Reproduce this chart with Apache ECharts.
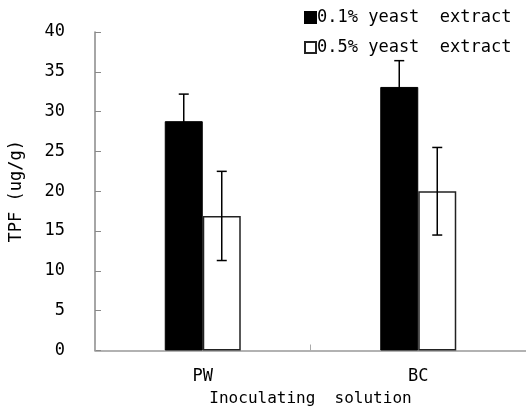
<!DOCTYPE html>
<html>
<head>
<meta charset="utf-8">
<script src="https://cdn.jsdelivr.net/npm/echarts@6/dist/echarts.min.js"></script>
<style>html,body{margin:0;padding:0;background:#fff;}#c{width:526px;height:414px;}</style>
</head>
<body>
<div id="c"></div>
<script>
const categories = ['PW', 'BC'];
const seriesNames = ['0.1% yeast  extract', '0.5% yeast  extract'];
const means01 = [28.8, 33.1];
const err01 = [3.4, 3.3];
const means05 = [16.9, 20.0];
const err05 = [5.6, 5.5];
const yTicks = [0, 5, 10, 15, 20, 25, 30, 35, 40];

const FONT = '"DejaVu Sans Mono", "Liberation Mono", monospace';
const chart = echarts.init(document.getElementById('c'));

function errSeries(means, errs, offset) {
  return {
    type: 'custom',
    silent: true,
    z: 5,
    data: means.map((m, i) => [i, m - errs[i], m + errs[i]]),
    renderItem: function (params, api) {
      const lo = api.coord([api.value(0), api.value(1)]);
      const hi = api.coord([api.value(0), api.value(2)]);
      const x = lo[0] + offset;
      const cap = 5;
      const st = { stroke: '#000', lineWidth: 1.5 };
      return {
        type: 'group',
        children: [
          { type: 'line', shape: { x1: x, y1: lo[1], x2: x, y2: hi[1] }, style: st },
          { type: 'line', shape: { x1: x - cap, y1: hi[1], x2: x + cap, y2: hi[1] }, style: st },
          { type: 'line', shape: { x1: x - cap, y1: lo[1], x2: x + cap, y2: lo[1] }, style: st }
        ]
      };
    }
  };
}

chart.setOption({
  animation: false,
  backgroundColor: '#fff',
  grid: { left: 93, right: -2, top: 32, bottom: 63.5 },
  legend: {
    orient: 'vertical',
    left: 299,
    top: 4,
    itemWidth: 11,
    itemHeight: 11,
    itemGap: 13,
    icon: 'rect',
    textStyle: { fontFamily: FONT, fontSize: 17, color: '#000', padding: [0, 0, 0, -4] },
    data: seriesNames
  },
  xAxis: {
    type: 'category',
    data: categories,
    name: 'Inoculating  solution',
    nameLocation: 'middle',
    nameGap: 40,
    nameTextStyle: { fontFamily: FONT, fontSize: 16, color: '#000' },
    axisLine: { lineStyle: { color: '#999', width: 1.5 } },
    axisTick: { show: true, inside: true, length: 6, lineStyle: { color: '#aaa' } },
    axisLabel: { fontFamily: FONT, fontSize: 17, color: '#000', margin: 18 }
  },
  yAxis: {
    type: 'value',
    min: yTicks[0],
    max: yTicks[yTicks.length - 1],
    interval: 5,
    name: 'TPF (ug/g)',
    nameLocation: 'middle',
    nameGap: 70,
    nameRotate: 90,
    nameTextStyle: { fontFamily: FONT, fontSize: 17, color: '#000' },
    splitLine: { show: false },
    axisLine: { show: true, lineStyle: { color: '#888', width: 1.5 } },
    axisTick: { show: true, inside: true, length: 6, lineStyle: { color: '#888' } },
    axisLabel: { fontFamily: FONT, fontSize: 17, color: '#000', margin: 30 }
  },
  series: [
    {
      name: seriesNames[0],
      type: 'bar',
      data: means01,
      barWidth: 38,
      barGap: '0%',
      itemStyle: { color: '#000', borderColor: '#000', borderWidth: 1 }
    },
    {
      name: seriesNames[1],
      type: 'bar',
      data: means05,
      barWidth: 38,
      barGap: '0%',
      itemStyle: { color: '#fff', borderColor: '#222', borderWidth: 1.5 }
    },
    errSeries(means01, err01, -19),
    errSeries(means05, err05, 19)
  ]
});
</script>
</body>
</html>
